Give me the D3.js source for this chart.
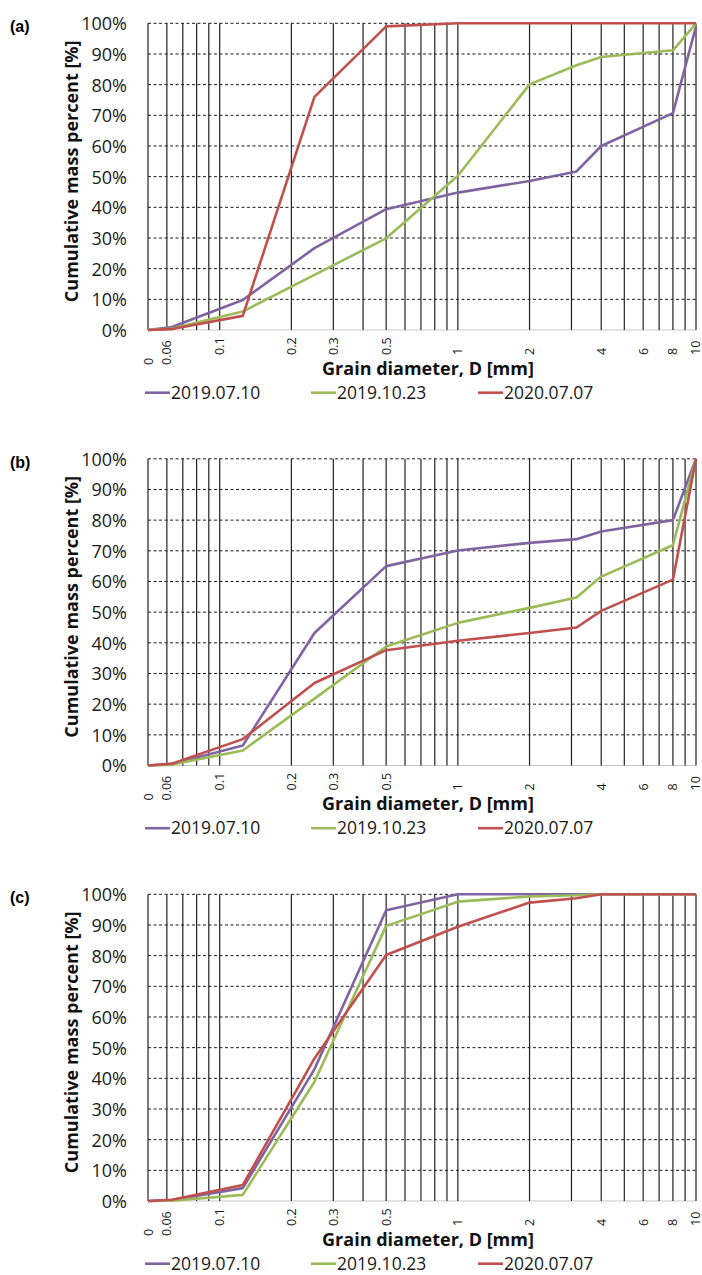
<!DOCTYPE html>
<html>
<head>
<meta charset="utf-8">
<script src="https://cdn.jsdelivr.net/npm/d3@7/dist/d3.min.js"></script>
<style>
html,body{margin:0;padding:0;background:#fff;}
svg{display:block;}
</style>
</head>
<body>
<svg id="chart" width="702" height="1275"></svg>
<script>
// ---------- data ----------
const panelLabels = ["(a)", "(b)", "(c)"];
const seriesNames = ["2019.07.10", "2019.10.23", "2020.07.07"];
const seriesColors = ["#8064A2", "#9BBB59", "#C0504D"];
const sieves = [0.05, 0.063, 0.125, 0.25, 0.5, 1, 2, 3.15, 4, 8, 10];

const purpleA = [0, 1.0, 9.8, 26.7, 39.4, 44.8, 48.6, 51.7, 60.0, 70.7, 99.0];
const greenA  = [0, 0.5, 6.0, 18.0, 29.9, 50.3, 80.1, 86.3, 89.0, 91.2, 100];
const redA    = [0, 0.3, 4.6, 76.0, 99.0, 100, 100, 100, 100, 100, 100];

const purpleB = [0, 0.5, 6.5, 43.2, 65.0, 70.1, 72.6, 73.8, 76.3, 80.0, 100];
const greenB  = [0, 0.3, 4.9, 21.8, 38.8, 46.5, 51.4, 54.8, 61.6, 71.8, 100];
const redB    = [0, 0.6, 8.6, 26.9, 37.6, 40.7, 43.2, 45.0, 50.4, 60.6, 100];

const purpleC = [0, 0.3, 4.2, 43.0, 94.8, 100, 100, 100, 100, 100, 100];
const greenC  = [0, 0.1, 2.0, 38.9, 89.7, 97.6, 99.3, 99.7, 100, 100, 100];
const redC    = [0, 0.4, 5.2, 46.5, 80.2, 89.4, 97.3, 98.7, 100, 100, 100];

const xTickValues = [0.05, 0.06, 0.1, 0.2, 0.3, 0.5, 1, 2, 4, 6, 8, 10];
const xTickLabels = ["0", "0.06", "0.1", "0.2", "0.3", "0.5", "1", "2", "4", "6", "8", "10"];
const yTickValues = [0, 10, 20, 30, 40, 50, 60, 70, 80, 90, 100];

const xTitle = "Grain diameter, D [mm]";
const yTitle = "Cumulative mass percent [%]";

const panels = [
  [purpleA, greenA, redA],
  [purpleB, greenB, redB],
  [purpleC, greenC, redC]
];

// ---------- layout ----------
const svg = d3.select("#chart");
const FONT = "'Open Sans', 'DejaVu Sans', sans-serif";
const left = 148, right = 696, plotH = 306.7;
const firstTop = 23.3, panelStep = 435.5;

const x = d3.scaleLog().domain([0.05, 10]).range([left, right]);
const gridVals = x.ticks();

panels.forEach((series, pi) => {
  const top = firstTop + pi * panelStep;
  const y = d3.scaleLinear().domain([0, 100]).range([top + plotH, top]);
  const g = svg.append("g");

  // panel label
  g.append("text").attr("x", 10).attr("y", top + 9)
    .attr("font-family", "'Liberation Sans', Arial, sans-serif")
    .attr("font-weight", "bold").attr("font-size", 16)
    .attr("fill", "#000").text(panelLabels[pi]);

  // horizontal dashed grid
  g.append("g").selectAll("line").data(yTickValues.filter(v => v > 0)).join("line")
    .attr("x1", left).attr("x2", right)
    .attr("y1", d => y(d)).attr("y2", d => y(d))
    .attr("stroke", "#1a1a1a").attr("stroke-width", 1)
    .attr("stroke-dasharray", "3,2.5");

  // bottom axis line
  g.append("line").attr("x1", left).attr("x2", right)
    .attr("y1", y(0)).attr("y2", y(0))
    .attr("stroke", "#c8c8c8").attr("stroke-width", 1.2);

  // vertical grid
  g.append("g").selectAll("line").data(gridVals).join("line")
    .attr("x1", d => x(d)).attr("x2", d => x(d))
    .attr("y1", y(100)).attr("y2", y(0))
    .attr("stroke", "#222").attr("stroke-width", 1.2);

  // y axis labels
  const yAxis = d3.axisLeft(y).tickValues(yTickValues)
    .tickFormat(d => d + "%").tickSize(0).tickPadding(0);
  const ya = g.append("g").attr("transform", `translate(127,0)`).call(yAxis);
  ya.select(".domain").remove();
  ya.selectAll("text").attr("font-family", FONT).attr("font-size", 18)
    .attr("fill", "#1a1a1a").attr("dy", "0.36em");

  // x axis labels (rotated)
  const xAxis = d3.axisBottom(x).tickValues(xTickValues)
    .tickFormat((d, i) => xTickLabels[i]).tickSize(0).tickPadding(0);
  const xa = g.append("g").attr("transform", `translate(0,${top + plotH})`).call(xAxis);
  xa.select(".domain").remove();
  xa.selectAll("text")
    .attr("font-family", FONT).attr("font-size", 12.5).attr("fill", "#1a1a1a")
    .attr("text-anchor", "start")
    .attr("transform", d => `translate(${d >= 10 ? -1 : 0},${d < 0.1 ? 35 : 25}) rotate(-90)`)
    .attr("x", 0).attr("y", 0).attr("dy", "0.32em");

  // axis titles
  g.append("text")
    .attr("transform", `translate(78,${top + 148}) rotate(-90)`)
    .attr("text-anchor", "middle")
    .attr("font-family", FONT).attr("font-weight", "bold").attr("font-size", 18)
    .attr("fill", "#111").text(yTitle);

  g.append("text").attr("x", 428).attr("y", top + 351.5)
    .attr("text-anchor", "middle")
    .attr("font-family", FONT).attr("font-weight", "bold").attr("font-size", 18)
    .attr("fill", "#111").text(xTitle);

  // series lines
  const line = d3.line().x((d, i) => x(sieves[i])).y(d => y(d));
  series.forEach((vals, si) => {
    g.append("path").datum(vals)
      .attr("d", line)
      .attr("fill", "none")
      .attr("stroke", seriesColors[si])
      .attr("stroke-width", 2.6)
      .attr("stroke-linejoin", "round");
  });

  // legend
  const legX = [145, 311, 478];
  const legY = top + 369.4;
  seriesNames.forEach((name, si) => {
    g.append("line").attr("x1", legX[si]).attr("x2", legX[si] + 25)
      .attr("y1", legY).attr("y2", legY)
      .attr("stroke", seriesColors[si]).attr("stroke-width", 2.6);
    g.append("text").attr("x", legX[si] + 26).attr("y", legY).attr("dy", "0.35em")
      .attr("font-family", FONT).attr("font-size", 17.5).attr("fill", "#1a1a1a")
      .text(name);
  });
});
</script>
</body>
</html>
